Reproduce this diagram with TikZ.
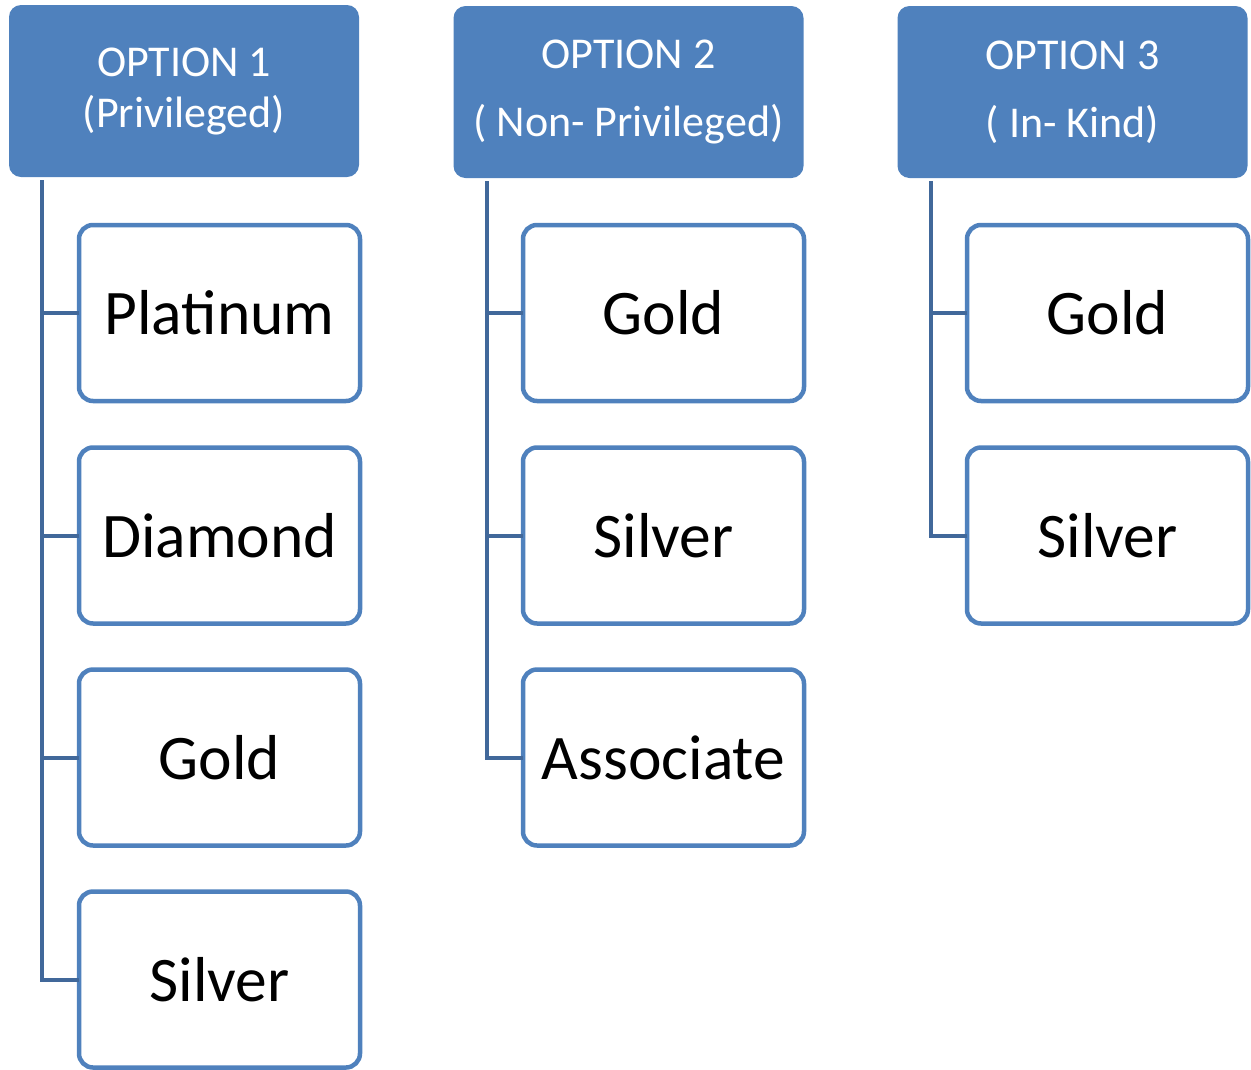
\documentclass[tikz,border=0pt]{standalone}
\usepackage{fontspec}
\setmainfont{Carlito}
\definecolor{hdrblue}{HTML}{4F81BD}
\definecolor{linblue}{HTML}{41689A}
\begin{document}
\begin{tikzpicture}[x=1pt,y=-1pt,
  hdr/.style={fill=hdrblue, draw=none, rounded corners=12pt, minimum width=350pt, minimum height=172pt,
    inner sep=0pt, outer sep=0pt, text=white, align=center},
  item/.style={draw=hdrblue, fill=white, line width=4.5pt, rounded corners=14pt, minimum width=281pt,
    minimum height=176pt, inner sep=0pt, outer sep=0pt, font=\fontsize{63.5}{76}\selectfont},
  conn/.style={draw=linblue, line width=4pt}]
\useasboundingbox (0,0) rectangle (1251,1069);
% headers
\node[hdr, font=\fontsize{44}{51}\selectfont] (h1) at (184,91) {OPTION 1\\(Privileged)};
\node[hdr, font=\fontsize{44}{68}\selectfont] (h2) at (628.5,92) {OPTION 2\\[0pt]( Non- Privileged)};
\node[hdr, font=\fontsize{44}{68}\selectfont] (h3) at (1072.5,92) {OPTION 3\\[0pt]( In- Kind)};
% column 1
\node[item] (c11) at (219.5,313) {Platinum};
\node[item] (c12) at (219.5,535.5) {Diamond};
\node[item] (c13) at (219.5,757.5) {Gold};
\node[item] (c14) at (219.5,979.5) {Silver};
% column 2
\node[item] (c21) at (663.5,313) {Gold};
\node[item] (c22) at (663.5,535.5) {Silver};
\node[item] (c23) at (663.5,757.5) {Associate};
% column 3
\node[item] (c31) at (1107.5,313) {Gold};
\node[item] (c32) at (1107.5,535.5) {Silver};
% connectors
\coordinate (t1) at ([xshift=33pt,yshift=-3pt]h1.south west);
\coordinate (t2) at ([xshift=33pt,yshift=-3pt]h2.south west);
\coordinate (t3) at ([xshift=33pt,yshift=-3pt]h3.south west);
\draw[conn] (t1) |- (c14.west);
\draw[conn] (t1 |- c11.west) -- (c11.west);
\draw[conn] (t1 |- c12.west) -- (c12.west);
\draw[conn] (t1 |- c13.west) -- (c13.west);
\draw[conn] (t2) |- (c23.west);
\draw[conn] (t2 |- c21.west) -- (c21.west);
\draw[conn] (t2 |- c22.west) -- (c22.west);
\draw[conn] (t3) |- (c32.west);
\draw[conn] (t3 |- c31.west) -- (c31.west);
\end{tikzpicture}
\end{document}
